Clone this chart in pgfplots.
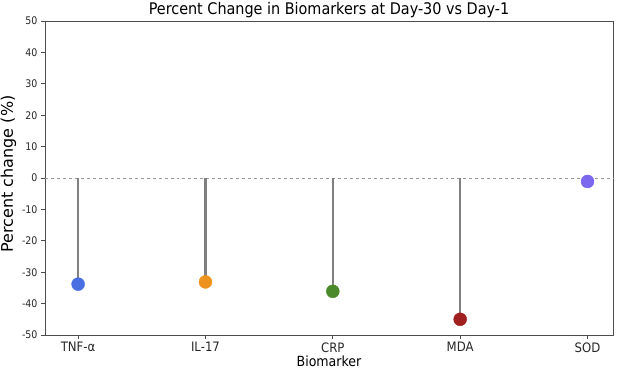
\documentclass[border=0pt]{standalone}
\usepackage{pgfplots}
\pgfplotsset{compat=1.18}
\usepackage{fontspec}
\setmainfont{DejaVu Sans Condensed}
\newfontfamily\dvs{DejaVu Sans}
\definecolor{cTNF}{HTML}{4A6FE3}
\definecolor{cIL}{HTML}{EE921E}
\definecolor{cCRP}{HTML}{4A8A2A}
\definecolor{cMDA}{HTML}{A02020}
\definecolor{cSOD}{HTML}{7B68EE}
\definecolor{stem}{HTML}{808080}
\begin{document}
\begin{tikzpicture}[x=1bp,y=1bp]
\useasboundingbox (-45bp,-39bp) rectangle (572bp,335bp);
\begin{axis}[
  at={(0,0)}, anchor=south west,
  scale only axis, width=568bp, height=314bp,
  xmin=-0.26, xmax=4.2, ymin=-50, ymax=50,
  xtick={0,1,2,3,4},
  xticklabels={TNF-α,IL-17,CRP,MDA,SOD},
  ytick={-50,-40,...,50},
  /pgf/number format/assume math mode=true,
  yticklabel style={font=\fontsize{10.5bp}{12bp}\selectfont, text=black!85},
  xticklabel style={font=\fontsize{13bp}{14bp}\selectfont, text=black!85},
  xlabel style={font=\fontsize{14bp}{16bp}\selectfont, yshift=3bp},
  ylabel style={font=\dvs\fontsize{16bp}{18bp}\selectfont, yshift=-1bp, xshift=4bp},
  title style={font=\fontsize{16bp}{18bp}\selectfont, yshift=-6.5bp},
  title={Percent Change in Biomarkers at Day-30 vs Day-1},
  xlabel={Biomarker}, ylabel={Percent change (\%)},
  axis line style={black!70, line width=0.8bp},
  tick style={black!70, line width=0.8bp},
  tick align=outside, major tick length=4bp,
  xtick pos=bottom, ytick pos=left,
  clip=false,
]
\draw[stem!80, dashed, line width=0.6bp] (axis cs:-0.26,0) -- (axis cs:4.2,0);
\addplot[ycomb, stem, line width=2.3bp, mark=none] coordinates {(0,-33.8) (1,-33.1) (2,-36.1) (3,-45.0) (4,-1.1)};
\addplot[only marks, mark=*, mark size=6.5bp, mark options={draw=cTNF, fill=cTNF}] coordinates {(0,-33.8)};
\addplot[only marks, mark=*, mark size=6.5bp, mark options={draw=cIL, fill=cIL}] coordinates {(1,-33.1)};
\addplot[only marks, mark=*, mark size=6.5bp, mark options={draw=cCRP, fill=cCRP}] coordinates {(2,-36.1)};
\addplot[only marks, mark=*, mark size=6.5bp, mark options={draw=cMDA, fill=cMDA}] coordinates {(3,-45.0)};
\addplot[only marks, mark=*, mark size=6.5bp, mark options={draw=cSOD, fill=cSOD}] coordinates {(4,-1.1)};
\end{axis}
\end{tikzpicture}
\end{document}
